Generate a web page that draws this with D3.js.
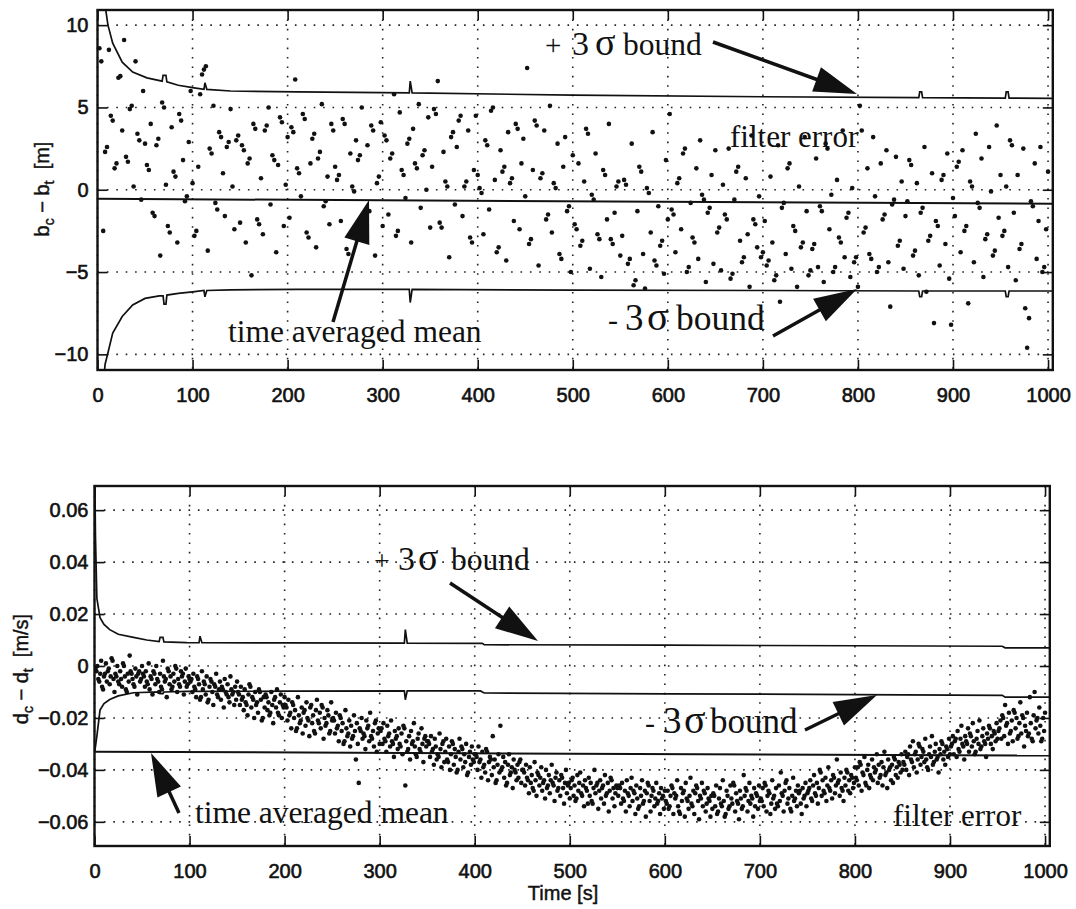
<!DOCTYPE html>
<html>
<head>
<meta charset="utf-8">
<script src="https://cdn.jsdelivr.net/npm/d3@7"></script>
<style>
  body { margin: 0; background: #fff; }
  svg { display: block; }
  .tick text { font-family: "Liberation Sans", Arial, sans-serif; font-size: 20px; fill: #111; }
  .axis-title { font-family: "Liberation Sans", Arial, sans-serif; font-size: 20px; fill: #111; }
  .note { font-family: "Liberation Serif", "Times New Roman", serif; fill: #111; }
</style>
</head>
<body>
<svg id="chart" width="1076" height="909"></svg>
<script>
// ---- data ----

// time axis (both panels)
const timeTicks = [0, 100, 200, 300, 400, 500, 600, 700, 800, 900, 1000];
const timeLabels = ["0", "100", "200", "300", "400", "500", "600", "700", "800", "900", "1000"];

// top panel: b_c - b_t [m]
const topTicks = [-10, -5, 0, 5, 10];
const topLabels = ["\u221210", "\u22125", "0", "5", "10"];

// filter error samples, one every 2 s (t = 2, 4, ... 1000)
const topStep = 2;
const topErr = [
  8.6,7.8,-2.5,2.3,2.6,8.5,4.5,4.2,1.3,1.6,6.8,6.9,3.6,9.1,2.0,1.7,4.9,5.1,0.2,7.8,3.4,3.0,-0.6,6.0,2.8,
  1.5,1.2,4.0,-1.4,-1.6,2.7,3.1,-4.0,5.3,5.0,0.3,-2.2,-2.6,3.8,1.1,0.8,-3.2,4.6,4.2,1.8,-0.7,-0.4,2.9,6.0,0.4,
  -2.8,-2.5,1.4,5.8,7.0,7.3,7.5,-3.7,2.5,2.2,5.1,-0.8,-1.2,3.5,3.2,1.0,-1.6,2.6,2.9,4.9,0.2,-2.4,3.0,3.3,-2.0,
  2.7,2.4,-3.2,1.6,1.9,-5.2,4.0,3.7,-1.8,-2.1,0.7,-2.7,3.6,3.9,5.0,-0.9,2.1,1.8,-3.8,1.5,4.4,4.1,-2.2,0.3,3.2,
  -1.7,3.8,3.5,6.7,1.3,1.0,-0.4,4.6,4.3,-2.6,-2.9,1.6,3.1,3.4,-3.5,1.9,2.3,5.2,-1.0,-0.7,0.8,-2.1,4.0,3.6,1.4,
  0.6,0.9,-1.9,4.3,4.0,-3.6,-3.9,2.2,0.2,-0.1,3.0,1.8,2.1,5.0,-2.5,-2.2,2.7,-1.3,3.9,3.6,-4.0,0.4,0.8,4.1,-2.2,
  3.3,3.0,-1.5,1.9,2.2,5.8,-2.8,-2.5,4.7,1.2,0.9,-0.5,2.8,3.1,-3.2,3.7,1.6,1.3,5.2,-1.1,2.1,2.4,0.0,4.4,-2.3,
  1.4,4.9,4.6,6.6,-2.0,-2.3,2.3,0.5,0.2,-4.1,3.2,3.5,-0.9,2.6,4.2,4.5,-1.6,0.2,0.5,3.6,-2.9,-3.2,1.2,4.5,0.9,
  0.1,-0.2,-2.7,3.0,2.7,-1.2,4.8,5.0,0.6,-3.8,-3.5,2.4,1.1,1.4,-4.3,3.5,0.4,0.7,-1.9,4.0,3.7,-2.4,1.6,3.1,-0.4,
  7.4,-3.3,-3.0,1.2,4.2,3.9,-4.6,0.7,1.0,3.6,-1.8,-1.5,5.1,-2.6,0.4,0.1,2.8,-3.9,-4.2,1.4,3.2,-1.3,-1.0,-5.0,2.1,
  -2.1,-2.4,1.6,-3.4,-3.1,0.5,3.7,3.4,-4.8,-0.3,-0.6,2.2,-2.7,-3.0,-5.3,1.2,0.9,-1.8,4.0,-3.0,-3.3,-1.4,0.2,0.5,-4.0,
  -2.8,0.6,0.3,-4.5,-4.2,2.8,-5.8,-5.5,-1.3,1.4,1.1,-3.9,-6.0,0.1,-0.2,-2.6,3.5,-4.3,-4.6,-1.0,-3.4,-3.1,-5.1,1.8,-1.8,
  4.6,-1.2,-1.5,-3.8,0.4,0.7,-2.4,2.2,2.5,-5.0,-4.7,-0.8,-2.9,-3.2,1.3,-4.2,3.0,-0.3,-0.6,-5.6,-1.4,-1.1,0.9,-4.5,2.4,
  -2.6,-2.3,-4.9,0.3,-1.5,-1.8,2.5,-5.4,-5.1,-0.6,1.1,1.4,-3.1,-4.4,-4.1,0.7,-2.7,-5.9,3.3,-1.8,-2.1,-3.5,-0.4,-4.1,-3.8,
  -1.9,-4.6,-4.3,0.8,-3.2,-5.5,-5.2,2.7,-6.8,-1.1,-0.8,-3.9,1.3,1.6,-4.8,-2.2,-2.5,-5.9,0.2,-3.5,-3.2,3.2,-1.3,-5.2,-4.9,
  -3.6,-3.3,1.9,-4.7,-1.0,-1.3,-5.6,2.8,2.5,-2.4,-0.3,-5.0,-4.7,0.6,-2.9,-3.2,3.6,-4.1,-1.7,-1.4,-5.3,0.1,-4.4,-4.1,-5.9,
  5.1,3.6,-2.6,-2.3,1.3,-3.9,-4.2,3.2,-0.4,-5.0,-4.7,1.6,-1.8,-1.5,2.4,-4.4,-7.1,-0.9,-0.6,2.0,-3.4,-3.1,0.5,-4.8,-1.6,
  -0.7,1.8,1.5,-4.0,-3.7,0.4,-5.2,-1.4,-1.1,2.6,-6.2,-3.1,-2.8,1.0,-8.1,-1.9,-2.2,-4.6,0.6,0.9,-3.3,2.2,-5.4,-8.2,-0.5,
  -1.6,1.4,1.7,-3.8,2.4,-2.5,-2.2,-6.9,0.5,0.2,-4.4,3.4,-0.8,-1.1,1.9,-5.3,-3.0,-2.7,2.6,-0.1,-4.0,-3.7,3.9,-1.7,0.9,
  -2.8,-2.5,0.2,-4.7,3.0,2.7,-1.4,-5.5,0.9,-3.6,-3.3,2.5,-7.2,-9.6,-7.8,-0.7,-1.0,1.6,-4.2,-1.9,2.6,-5.0,-4.7,-2.4,1.1
];

// +3 sigma / -3 sigma bounds and time averaged mean, [t, m]
const topUpper = [[5,13],[8,11.2],[11,10.0],[16,8.9],[26,7.75],[37,7.15],[52,6.8],[68,6.6],[69,6.95],[72,6.95],
  [73,6.55],[85,6.35],[100,6.2],[112,6.1],[113,6.5],[115,6.1],[140,6.0],[210,5.95],[328,5.88],[329,6.6],[331,5.88],
  [500,5.75],[700,5.65],[864,5.6],[865,5.95],[867,5.95],[868,5.6],[955,5.57],[956,5.95],[958,5.95],[959,5.57],[1005,5.55]];
const topLower = [[5,-12.5],[8,-10.6],[11,-9.9],[16,-8.7],[26,-7.7],[37,-7.0],[50,-6.6],[65,-6.45],[69,-6.45],[70,-6.95],
  [72,-6.95],[73,-6.4],[85,-6.3],[100,-6.2],[112,-6.12],[113,-6.5],[115,-6.12],[140,-6.08],[210,-6.05],[328,-6.05],
  [329,-6.85],[331,-6.05],[500,-6.1],[700,-6.12],[864,-6.15],[865,-6.5],[867,-6.5],[868,-6.15],[955,-6.15],[956,-6.5],
  [958,-6.5],[959,-6.15],[1005,-6.15]];
const topMean = [[0,-0.55],[1005,-0.85]];

// bottom panel: d_c - d_t, stored in mm/s (1e-3 m/s)
const bottomTicks = [-60, -40, -20, 0, 20, 40, 60];
const bottomLabels = ["\u22120.06", "\u22120.04", "\u22120.02", "0", "0.02", "0.04", "0.06"];

// filter error samples, one per second (t = 1 ... 1000), mm/s
const bottomStep = 1;
const bottomErr = [
  -1,-2,0,-5,-6,-3,2,-8,-9,-4,-3,1,-6,-2,-1,-7,-4,3,2,-5,-10,-3,-4,0,-6,-7,-2,-5,-8,1,0,-4,-9,-10,-3,-6,4,-2,-3,-5,-7,-8,-1,-4,-11,-3,-2,-6,-5,0,
  -3,-4,-8,-2,-6,-7,1,-9,-4,-5,-11,-2,-3,-7,0,-5,-6,-10,-3,-8,-9,2,-4,-6,-5,-12,-1,-2,-7,-4,-9,-8,-3,-6,0,-1,-10,-5,-7,-8,-2,-4,-3,-11,-6,-1,-8,-7,-4,-5,
  -6,-5,-10,-3,-8,-9,-12,-4,-5,-7,-13,-12,-2,-9,-6,-7,-11,-4,-14,-13,-8,-5,-6,-10,-15,-7,-8,-3,-11,-12,-9,-6,-13,-8,-9,-16,-5,-10,-11,-7,-12,-14,-4,-9,-11,-10,-15,-8,-13,-6,
  -10,-11,-15,-8,-13,-12,-17,-9,-14,-15,-19,-11,-7,-8,-16,-12,-13,-20,-10,-15,-14,-18,-9,-10,-13,-21,-20,-12,-16,-11,-12,-17,-14,-19,-18,-10,-15,-22,-13,-12,-16,-9,-18,-19,-14,-11,-20,-15,-16,-12,
  -15,-16,-21,-13,-19,-18,-24,-14,-15,-20,-17,-25,-24,-12,-19,-22,-21,-16,-26,-18,-17,-23,-14,-20,-21,-27,-16,-15,-22,-19,-25,-26,-17,-13,-21,-22,-18,-24,-15,-16,-28,-20,-23,-22,-17,-19,-26,-25,-14,-21,
  -20,-21,-26,-18,-24,-23,-29,-19,-20,-25,-22,-30,-29,-17,-24,-27,-26,-21,-31,-23,-28,-27,-19,-25,-36,-22,-30,-45,-24,-25,-20,-28,-26,-27,-32,-21,-24,-23,-29,-18,-27,-28,-25,-31,-22,-21,-33,-26,-24,-30,
  -25,-24,-30,-22,-28,-29,-33,-23,-27,-26,-31,-21,-29,-30,-35,-25,-28,-27,-32,-24,-30,-31,-26,-34,-23,-24,-46,-29,-33,-32,-27,-36,-25,-30,-29,-22,-31,-34,-35,-28,-26,-32,-33,-24,-30,-37,-28,-27,-31,-29,
  -29,-30,-35,-27,-33,-32,-38,-28,-31,-36,-34,-35,-26,-32,-39,-30,-29,-37,-33,-28,-36,-37,-31,-40,-34,-29,-30,-38,-32,-35,-41,-40,-33,-28,-36,-31,-32,-39,-34,-37,-30,-42,-41,-35,-33,-38,-31,-36,-37,-34,
  -34,-35,-40,-31,-37,-36,-43,-33,-39,-38,-41,-32,-33,-44,-37,-35,-36,-42,-27,-39,-36,-45,-44,-38,-34,-41,-23,-40,-39,-35,-43,-37,-46,-45,-38,-34,-42,-41,-39,-47,-36,-40,-41,-44,-38,-43,-37,-36,-45,-40,
  -40,-41,-46,-38,-43,-44,-49,-39,-45,-42,-47,-48,-37,-44,-50,-41,-42,-46,-43,-39,-48,-45,-44,-51,-40,-47,-46,-42,-49,-44,-38,-45,-46,-52,-43,-41,-48,-47,-44,-50,-42,-43,-47,-53,-45,-40,-49,-46,-45,-51,
  -47,-44,-43,-50,-46,-52,-51,-42,-48,-45,-41,-49,-50,-46,-54,-44,-47,-48,-53,-43,-50,-45,-52,-53,-47,-40,-49,-46,-45,-55,-48,-44,-51,-47,-46,-53,-42,-50,-49,-45,-56,-48,-43,-44,-51,-47,-54,-49,-46,-47,
  -50,-46,-47,-53,-45,-51,-52,-48,-56,-44,-49,-50,-54,-47,-43,-52,-48,-49,-57,-46,-51,-55,-54,-47,-50,-44,-53,-52,-48,-58,-49,-45,-46,-52,-56,-50,-47,-48,-54,-51,-45,-53,-52,-49,-57,-47,-51,-50,-55,-48,
  -52,-53,-48,-55,-54,-50,-46,-47,-57,-49,-51,-50,-44,-54,-56,-57,-47,-52,-49,-48,-58,-45,-51,-52,-55,-50,-43,-53,-54,-48,-57,-49,-46,-47,-52,-59,-50,-51,-45,-54,-48,-49,-56,-53,-47,-51,-52,-58,-50,-55,
  -49,-50,-54,-46,-57,-56,-51,-47,-53,-54,-44,-52,-58,-57,-48,-50,-55,-54,-46,-51,-53,-45,-46,-56,-49,-52,-53,-59,-48,-51,-55,-54,-42,-50,-47,-48,-56,-52,-45,-53,-50,-51,-58,-47,-54,-49,-50,-55,-46,-52,
  -51,-52,-47,-54,-45,-46,-56,-50,-48,-49,-57,-53,-44,-51,-50,-55,-47,-53,-54,-46,-52,-41,-49,-50,-56,-48,-45,-44,-53,-51,-47,-55,-56,-50,-43,-52,-51,-48,-54,-46,-49,-48,-53,-57,-47,-51,-50,-45,-54,-49,
  -48,-47,-44,-51,-52,-46,-42,-49,-50,-45,-53,-47,-40,-41,-50,-44,-48,-49,-43,-52,-46,-39,-47,-48,-44,-51,-42,-43,-49,-46,-36,-45,-44,-50,-41,-47,-48,-52,-43,-46,-40,-41,-48,-44,-49,-42,-43,-47,-45,-39,
  -43,-44,-39,-46,-37,-38,-48,-41,-42,-35,-45,-46,-40,-38,-47,-42,-43,-36,-44,-39,-41,-40,-34,-45,-38,-43,-42,-37,-46,-39,-33,-42,-41,-47,-36,-40,-39,-44,-38,-45,-35,-36,-42,-39,-43,-37,-38,-41,-34,-40,
  -37,-38,-33,-40,-35,-34,-42,-31,-36,-37,-29,-39,-34,-33,-41,-36,-30,-31,-38,-35,-32,-33,-37,-28,-36,-39,-40,-34,-31,-35,-27,-38,-37,-33,-30,-36,-35,-41,-32,-34,-29,-30,-36,-33,-38,-31,-32,-35,-28,-34,
  -31,-30,-27,-34,-29,-28,-35,-25,-32,-33,-28,-23,-30,-31,-36,-27,-29,-30,-24,-33,-26,-27,-31,-22,-29,-34,-33,-28,-25,-30,-21,-32,-31,-27,-24,-29,-30,-35,-26,-28,-23,-24,-30,-27,-32,-25,-26,-29,-22,-28,
  -25,-24,-21,-28,-19,-20,-27,-15,-23,-22,-30,-18,-26,-25,-21,-29,-17,-18,-24,-20,-28,-27,-22,-14,-26,-19,-20,-31,-23,-25,-18,-27,-26,-12,-22,-28,-29,-19,-10,-24,-21,-20,-26,-16,-23,-29,-28,-20,-25,-18
];

const bottomUpper = [[0.3,75],[1,50],[2.5,26],[5.8,18.6],[10,16],[16,14],[25,12.2],[41,11],[55,10],[68,9.4],[69,11],[72,11],
  [73,9.3],[97,9.0],[110,8.95],[111,11.5],[113,8.95],[200,8.9],[326,8.8],[327,14],[329,8.8],[408,8.7],[410,8.2],
  [600,8.0],[800,7.8],[955,7.6],[958,7.0],[1005,7.0]];
const bottomLower = [[0.3,-33],[1,-31],[2.5,-27],[5.8,-17],[10,-14.5],[16,-12.9],[25,-11.5],[41,-10.3],[68,-10],[69,-10.6],
  [72,-10.6],[73,-10],[97,-9.8],[200,-9.7],[326,-9.6],[327,-13],[329,-9.6],[406,-9.6],[410,-10.4],[600,-10.7],
  [800,-11.0],[955,-11.3],[958,-12.0],[1005,-12.0]];
const bottomMean = [[0,-33],[1005,-34.5]];

// ---- drawing ----
const svg = d3.select("#chart");

const panels = [
  {id: "top", left: 97.5, right: 1052.8, top: 10, bottom: 370, yDomain: [-10.95, 10.92],
   yTicks: topTicks, yLabels: topLabels, yPad: 9, err: topErr, step: topStep,
   upper: topUpper, lower: topLower, mean: topMean},
  {id: "bottom", left: 94.5, right: 1049.8, top: 486, bottom: 846, yDomain: [-69.3, 69.3],
   yTicks: bottomTicks, yLabels: bottomLabels, yPad: 6, err: bottomErr, step: bottomStep,
   upper: bottomUpper, lower: bottomLower, mean: bottomMean}
];

panels.forEach(function(p) {
  let x = d3.scaleLinear().domain([0, 1005]).range([p.left, p.right]);
  let y = d3.scaleLinear().domain(p.yDomain).range([p.bottom, p.top]);

  svg.append("clipPath").attr("id", "clip-" + p.id)
     .append("rect")
     .attr("x", p.left).attr("y", p.top)
     .attr("width", p.right - p.left).attr("height", p.bottom - p.top);

  // dotted grid
  let grid = svg.append("g").attr("stroke", "#222").attr("stroke-width", 1.6)
                .attr("stroke-dasharray", "1.6 7.8").attr("fill", "none");
  grid.selectAll(".gx").data(timeTicks).enter().append("line")
      .attr("x1", x).attr("x2", x)
      .attr("y1", p.top).attr("y2", p.bottom);
  grid.selectAll(".gy").data(p.yTicks).enter().append("line")
      .attr("x1", p.left).attr("x2", p.right)
      .attr("y1", y).attr("y2", y);

  let plot = svg.append("g").attr("clip-path", "url(#clip-" + p.id + ")");

  // bound and mean lines
  let line = d3.line().x(d => x(d[0])).y(d => y(d[1]));
  [p.upper, p.lower].forEach(function(b) {
    plot.append("path").datum(b).attr("d", line)
        .attr("fill", "none").attr("stroke", "#111").attr("stroke-width", 1.7);
  });
  plot.append("path").datum(p.mean).attr("d", line)
      .attr("fill", "none").attr("stroke", "#111").attr("stroke-width", 2);

  // filter error samples
  plot.selectAll("circle").data(p.err).enter().append("circle")
      .attr("cx", (d, i) => x((i + 1) * p.step))
      .attr("cy", d => y(d))
      .attr("r", 2.3)
      .attr("fill", "#111");

  // axes with inward ticks on all four sides
  svg.append("g").attr("transform", "translate(0," + p.bottom + ")")
     .call(d3.axisBottom(x).tickValues(timeTicks).tickSize(-10).tickPadding(18)
             .tickFormat((d, i) => timeLabels[i]));
  svg.append("g").attr("transform", "translate(0," + p.top + ")")
     .call(d3.axisTop(x).tickValues(timeTicks).tickSize(-10).tickFormat(""));
  svg.append("g").attr("transform", "translate(" + p.left + ",0)")
     .call(d3.axisLeft(y).tickValues(p.yTicks).tickSize(-10).tickPadding(p.yPad)
             .tickFormat((d, i) => p.yLabels[i]));
  svg.append("g").attr("transform", "translate(" + p.right + ",0)")
     .call(d3.axisRight(y).tickValues(p.yTicks).tickSize(-10).tickFormat(""));

  // frame
  svg.append("rect")
     .attr("x", p.left).attr("y", p.top)
     .attr("width", p.right - p.left).attr("height", p.bottom - p.top)
     .attr("fill", "none").attr("stroke", "#111").attr("stroke-width", 2.4);
});

svg.selectAll(".domain").remove();
svg.selectAll(".tick line").attr("stroke", "#111").attr("stroke-width", 1.6);
svg.selectAll(".tick text").attr("stroke", "#111").attr("stroke-width", 0.6);

// axis titles
function yTitle(cx, cy, v, unit) {
  let t = svg.append("text").attr("class", "axis-title")
             .attr("transform", "translate(" + cx + "," + cy + ") rotate(-90)")
             .attr("text-anchor", "middle")
             .attr("stroke", "#111").attr("stroke-width", 0.45);
  t.append("tspan").text(v);
  t.append("tspan").attr("dy", 5).attr("font-size", 14).text("c");
  t.append("tspan").attr("dy", -5).text(" \u2212 " + v);
  t.append("tspan").attr("dy", 5).attr("font-size", 14).text("t");
  t.append("tspan").attr("dy", -5).text("\u00a0\u00a0[" + unit + "]");
}
yTitle(49, 189, "b", "m");
yTitle(28, 669, "d", "m/s");

svg.append("text").attr("class", "axis-title")
   .attr("x", 563).attr("y", 900).attr("text-anchor", "middle")
   .attr("stroke", "#111").attr("stroke-width", 0.45)
   .text("Time [s]");

// annotations: [text, left x, font size]
const notes = [
  {y: 55, parts: [["+", 545, 29], ["3", 572, 34], ["\u03c3", 595, 38], ["bound", 623, 31.5]]},
  {y: 147, parts: [["filter error", 730, 31]]},
  {y: 342, parts: [["time averaged mean", 228, 31.5]]},
  {y: 330, parts: [["-", 608, 30], ["3", 625, 37], ["\u03c3", 647, 40], ["bound", 676, 35.5]]},
  {y: 570, parts: [["+", 374, 28], ["3", 398, 34], ["\u03c3", 418, 38], ["bound", 451, 31.5]]},
  {y: 733, parts: [["-", 645, 30], ["3", 663, 37], ["\u03c3", 684, 40], ["bound", 710, 35]]},
  {y: 823, parts: [["time averaged mean", 195, 31.5]]},
  {y: 826, parts: [["filter error", 893, 31]]}
];
notes.forEach(function(n) {
  let t = svg.append("text").attr("class", "note").attr("y", n.y);
  n.parts.forEach(function(q) {
    t.append("tspan").attr("x", q[1]).attr("font-size", q[2]).text(q[0]);
  });
});

// arrows: [tail, tip]
const arrows = [
  [[713, 42], [857, 94]],
  [[333, 322], [369, 200]],
  [[773, 336], [857, 289]],
  [[450, 583], [538, 641]],
  [[805, 730], [877, 695]],
  [[179, 813], [151, 753]]
];
arrows.forEach(function(a) {
  let tail = a[0], tip = a[1];
  let dx = tip[0] - tail[0], dy = tip[1] - tail[1];
  let len = Math.hypot(dx, dy), ux = dx / len, uy = dy / len;
  let hl = 43, hw = 13;
  let bx = tip[0] - ux * hl, by = tip[1] - uy * hl;
  svg.append("line")
     .attr("x1", tail[0]).attr("y1", tail[1])
     .attr("x2", bx + ux * 4).attr("y2", by + uy * 4)
     .attr("stroke", "#111").attr("stroke-width", 3.5);
  svg.append("path")
     .attr("d", "M" + tip[0] + "," + tip[1] +
                "L" + (bx - uy * hw) + "," + (by + ux * hw) +
                "L" + (bx + uy * hw) + "," + (by - ux * hw) + "Z")
     .attr("fill", "#111");
});
</script>
</body>
</html>
